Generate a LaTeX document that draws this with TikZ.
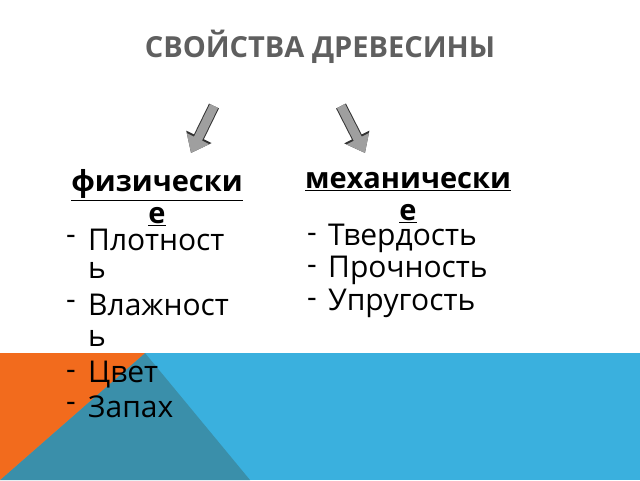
\documentclass[tikz,border=0pt]{standalone}
\usepackage{fontspec}
\setmainfont{Open Sans}
\usetikzlibrary{arrows.meta}
\definecolor{titlegray}{HTML}{5F5F5F}
\definecolor{skyblue}{HTML}{3AB0DE}
\definecolor{woodorange}{HTML}{F26B1D}
\definecolor{deepteal}{HTML}{3A8FAA}
\begin{document}
\begin{tikzpicture}[x=1pt, y=-1pt,
    head/.style = {font=\bfseries\fontsize{29}{30}\selectfont, align=center, inner sep=0pt},
    item/.style = {font=\fontsize{30}{32}\selectfont, anchor=west, inner sep=0pt},
    dashmark/.style = {font=\fontsize{30}{32}\selectfont, anchor=west, inner sep=0pt},
    bigarrow/.style = {line width=9pt, draw=gray!75,
        -{Triangle[width=24pt,length=16pt]},
        preaction={draw=gray!40!black, line width=11pt, -{Triangle[width=27pt,length=18pt]}}}]
    \useasboundingbox (0,0) rectangle (640,480);

    % bottom band
    \fill[skyblue] (0,353) rectangle (640,480);
    \fill[deepteal] (145,353) -- (250,480) -- (0,480) -- cycle;
    \fill[woodorange] (0,353) -- (145,353) -- (0,480) -- cycle;

    \node[font=\bfseries\fontsize{29}{30}\selectfont, text=titlegray] (title) at (320,47) {СВОЙСТВА ДРЕВЕСИНЫ};

    \coordinate (a1) at (214,106);
    \coordinate (b1) at (191,153);
    \coordinate (a2) at (341,106);
    \coordinate (b2) at (365,153);
    \draw[bigarrow] (a1) -- (b1);
    \draw[bigarrow] (a2) -- (b2);

    \node[head] (phys) at (157,198) {\underline{физически}\\[2pt]\underline{е}};
    \node[head] (mech) at (408,198) {\underline{механически}\\[2pt]\underline{е}};

    % left list
    \node[dashmark] (d1) at (66,240) {-};
    \node[item] (l1) at (88,240) {Плотност};
    \node[item] (l1b) at (88,270) {ь};
    \node[dashmark] (d2) at (66,305) {-};
    \node[item] (l2) at (88,305) {Влажност};
    \node[item] (l2b) at (88,338) {ь};
    \node[dashmark] (d3) at (66,375) {-};
    \node[item] (l3) at (88,375) {Цвет};
    \node[dashmark] (d4) at (66,407) {-};
    \node[item] (l4) at (88,407) {Запах};

    % right list
    \node[dashmark] (e1) at (307,238) {-};
    \node[item] (r1) at (328,238) {Твердость};
    \node[dashmark] (e2) at (307,270) {-};
    \node[item] (r2) at (328,270) {Прочность};
    \node[dashmark] (e3) at (307,303) {-};
    \node[item] (r3) at (328,303) {Упругость};
\end{tikzpicture}
\end{document}
